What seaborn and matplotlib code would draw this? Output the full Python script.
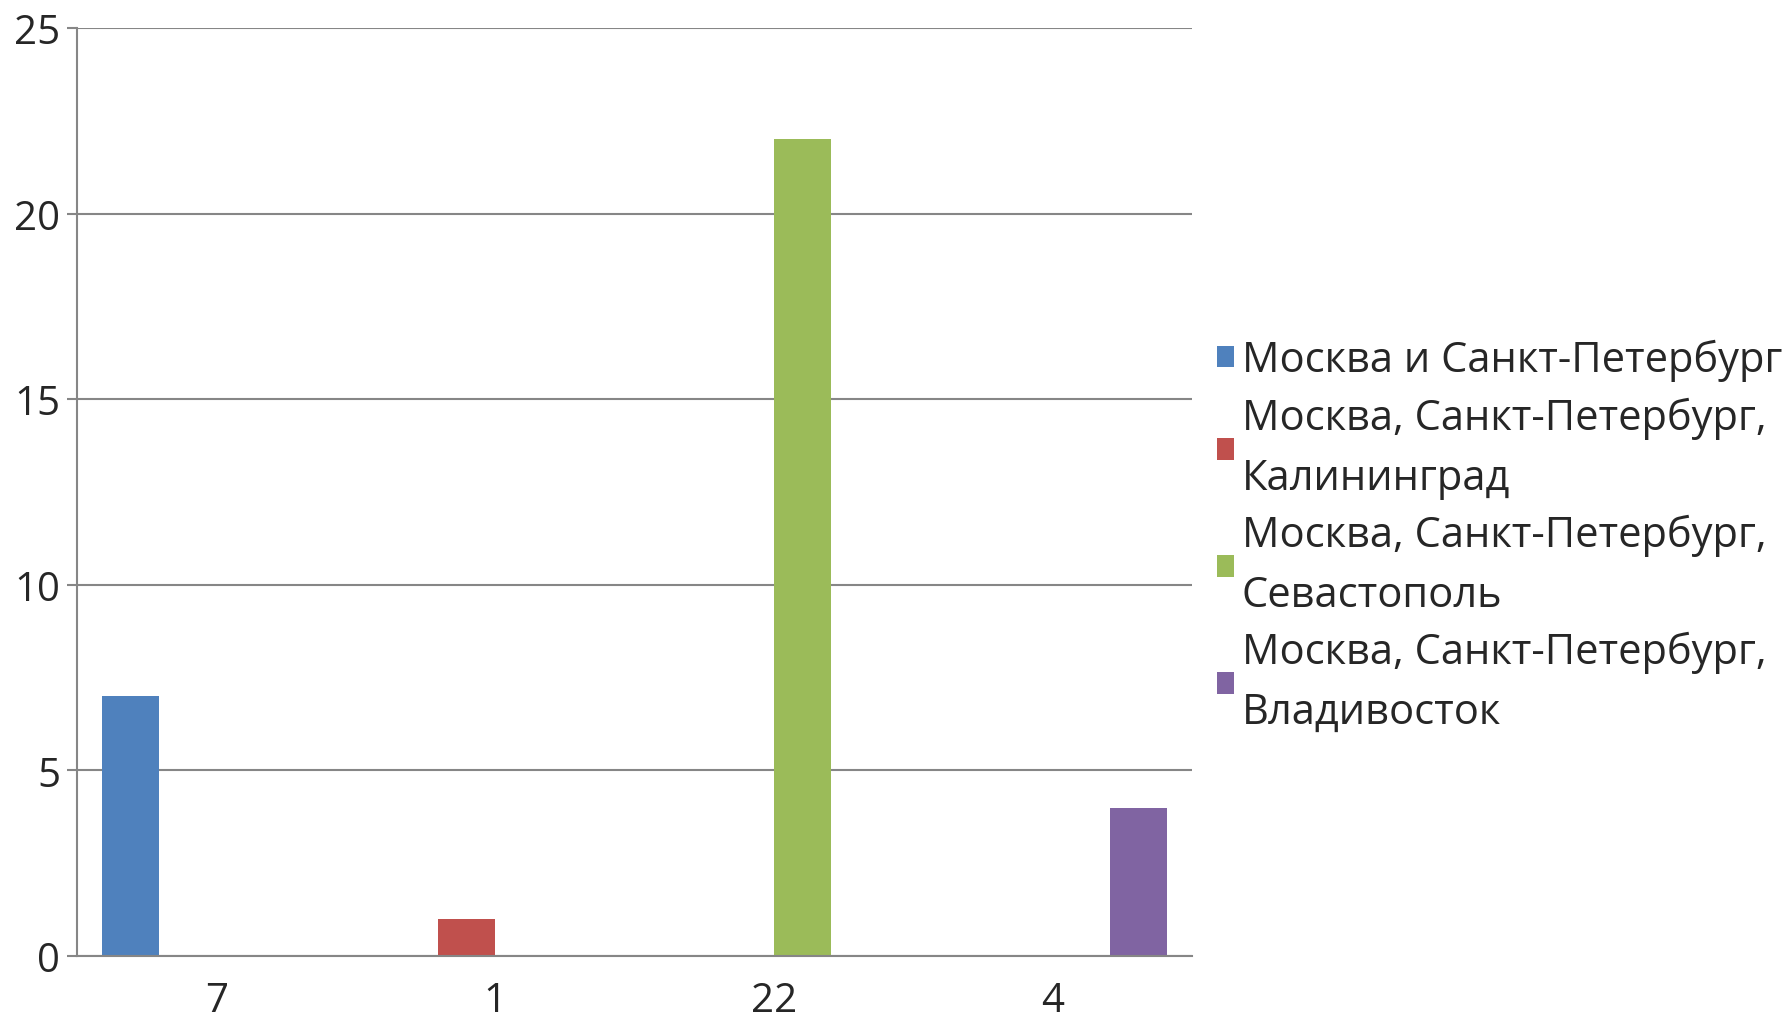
import pandas as pd
import numpy as np
import matplotlib
matplotlib.use('Agg')
import matplotlib.pyplot as plt
import seaborn as sns

# Data
categories = ['7', '1', '22', '4']
series = [
    'Москва и Санкт-Петербург',
    'Москва, Санкт-Петербург,\nКалининград',
    'Москва, Санкт-Петербург,\nСевастополь',
    'Москва, Санкт-Петербург,\nВладивосток',
]
moscow_spb = [7, 0, 0, 0]
kaliningrad = [0, 1, 0, 0]
sevastopol = [0, 0, 22, 0]
vladivostok = [0, 0, 0, 4]
colors = ['#4F81BD', '#C0504D', '#9BBB59', '#8064A2']
y_ticks = [0, 5, 10, 15, 20, 25]

rows = []
for name, vals in zip(series, [moscow_spb, kaliningrad, sevastopol, vladivostok]):
    for cat, v in zip(categories, vals):
        rows.append({'category': cat, 'series': name, 'value': v})
df = pd.DataFrame(rows)

sns.set_style('white')
plt.rcParams['font.family'] = ['Open Sans', 'DejaVu Sans']

fig = plt.figure(figsize=(17.92, 10.2), dpi=100)
ax = fig.add_axes([77 / 1792, 63 / 1020, 1115 / 1792, 928 / 1020])

sns.barplot(data=df, x='category', y='value', hue='series', order=categories,
            hue_order=series, palette=colors, width=0.82, linewidth=0,
            saturation=1, ax=ax, legend=True)

grid_c = '#868686'
txt_c = '#262626'
ax.set_xlim(-0.5, 3.5)
ax.set_ylim(0, 25)
ax.set_yticks(y_ticks)
ax.yaxis.grid(True, color=grid_c, linewidth=1.5)
ax.set_axisbelow(True)
for s in ['top', 'right']:
    ax.spines[s].set_visible(False)
for s in ['left', 'bottom']:
    ax.spines[s].set_color(grid_c)
    ax.spines[s].set_linewidth(1.5)

ax.set_xticks(range(len(categories)))
ax.set_xticklabels(categories)
ax.set_xticks(np.arange(-0.5, 4, 1), minor=True)
ax.tick_params(axis='x', which='major', length=0, pad=18, labelsize=29, colors=txt_c)
ax.tick_params(axis='x', which='minor', length=6, width=1.5, color=grid_c, direction='out')
ax.tick_params(axis='y', length=7, width=1.5, color=grid_c, pad=5, labelsize=29,
               labelcolor=txt_c, direction='out', left=True)
ax.set_xlabel('')
ax.set_ylabel('')

handles, labels = ax.get_legend_handles_labels()
ax.get_legend().remove()
leg = fig.legend(handles, labels, loc='center left', bbox_to_anchor=(1179 / 1792, 0.4735),
                 frameon=False, fontsize=30, handlelength=0.42, handleheight=0.42,
                 handletextpad=0.18, labelspacing=0.37, labelcolor=txt_c)
for t in leg.get_texts():
    t.set_linespacing(1.55)

fig.savefig('out.png', dpi=100, facecolor='white')
